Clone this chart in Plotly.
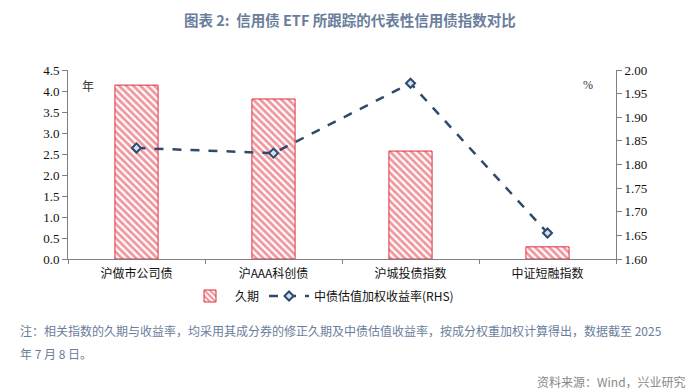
import plotly.graph_objects as go

categories = ["沪做市公司债", "沪AAA科创债", "沪城投债指数", "中证短融指数"]
duration = [4.14, 3.81, 2.57, 0.29]
yield_rhs = [1.835, 1.824, 1.972, 1.655]

# page body has an 8px margin; work in reference pixel coords and offset
O = 8
W, H = 700 - O, 392 - O
L, T = 68 - O, 70 - O
R = 700 - 616
B = 392 - 259
pw, ph = W - L - R, H - T - B

def px(x):
    return (x - O - L) / pw

def py(y):
    return (H - B - (y - O)) / ph

fig = go.Figure()
fig.add_trace(go.Bar(
    x=categories, y=duration, name="久期", width=0.315,
    marker=dict(color="white", line=dict(color="#E0303F", width=1),
                pattern=dict(shape="\\", fgcolor="#E0303F", bgcolor="white",
                             size=5, solidity=0.55)),
    yaxis="y"))
fig.add_trace(go.Scatter(
    x=categories, y=yield_rhs, name="中债估值加权收益率(RHS)", mode="lines+markers",
    line=dict(color="#2F4A6D", width=2.5, dash="dash"),
    marker=dict(symbol="diamond", size=7, color="#CFE2F5",
                line=dict(color="#2F4A6D", width=2)),
    yaxis="y2"))

axis_font = dict(family="Liberation Serif, Times New Roman, serif", size=13, color="#111111")
fig.update_layout(
    width=W, height=H, margin=dict(l=L, r=R, t=T, b=B, autoexpand=False),
    paper_bgcolor="white", plot_bgcolor="white",
    showlegend=True,
    legend=dict(orientation="h", x=(322 - O) / W, xanchor="center", xref="container",
                y=1 - (296 - O) / H, yanchor="middle", yref="container",
                font=dict(family="Noto Sans CJK SC", size=12, color="#111111"),
                itemwidth=40, traceorder="normal"),
    xaxis=dict(type="category", tickson="boundaries", ticks="outside", ticklen=4,
               tickcolor="#808080", showline=True, linecolor="#808080", linewidth=1,
               range=[-0.5, 3.5], showgrid=False, ticklabelstandoff=4,
               tickfont=dict(family="Noto Sans CJK SC", size=12, color="#111111")),
    yaxis=dict(range=[0, 4.5], dtick=0.5, tickformat=".1f", ticks="outside", ticklen=5,
               tickcolor="#808080", showline=True, linecolor="#808080", linewidth=1,
               showgrid=False, zeroline=False, tickfont=axis_font),
    yaxis2=dict(range=[1.6, 2.0], dtick=0.05, tickformat=".2f", overlaying="y", side="right",
                ticks="outside", ticklen=5, tickcolor="#808080", showline=True,
                linecolor="#808080", linewidth=1, showgrid=False, zeroline=False,
                tickfont=axis_font),
    bargap=0.5,
)

ann = [
    dict(text="<b>图表 2:  信用债 ETF 所跟踪的代表性信用债指数对比</b>", x=px(350),
         y=py(19), xanchor="center", font=dict(family="Noto Sans CJK SC", size=14.5, color="#6A7E9B")),
    dict(text="年", x=px(88), y=py(85), xanchor="center",
         font=dict(family="Noto Sans CJK SC", size=12, color="#333333")),
    dict(text="%", x=px(588), y=py(85), xanchor="center",
         font=dict(family="Liberation Serif", size=12, color="#333333")),
    dict(text="注：相关指数的久期与收益率，均采用其成分券的修正久期及中债估值收益率，按成分权重加权计算得出，数据截至 2025",
         x=px(18), y=py(330), xanchor="left",
         font=dict(family="Noto Sans CJK SC", size=12, color="#6A7E9B")),
    dict(text="年 7 月 8 日。", x=px(18), y=py(353), xanchor="left",
         font=dict(family="Noto Sans CJK SC", size=12, color="#6A7E9B")),
    dict(text="资料来源：Wind，兴业研究", x=px(688), y=py(381), xanchor="right",
         font=dict(family="Noto Sans CJK SC", size=12, color="#888888")),
]
for a in ann:
    a["xref"] = "paper"
    a["yref"] = "paper"
    a["yanchor"] = "middle"
    a["showarrow"] = False
fig.update_layout(annotations=ann)

fig.write_html("out.html")
